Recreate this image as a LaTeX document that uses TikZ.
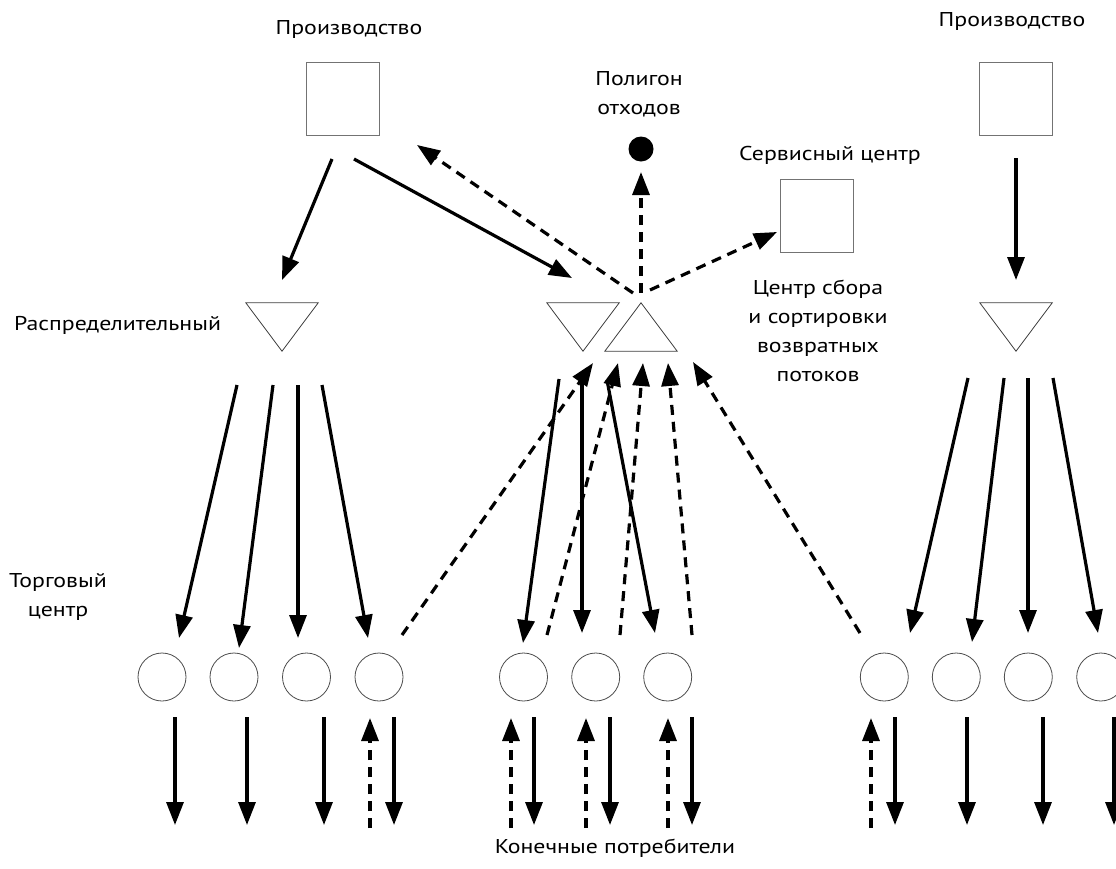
\documentclass[tikz,border=0pt]{standalone}
\usepackage{fontspec}
\setmainfont{PT Sans}[FakeStretch=1.19]
\usetikzlibrary{arrows.meta}
\tikzset{
  arr/.style={line width=3.2pt, -{Triangle[length=23pt,width=17pt]}},
  darr/.style={arr, dash pattern=on 10pt off 7pt},
  boxn/.style={draw=black!55, line width=0.9pt, minimum width=73pt, minimum height=73pt, inner sep=0pt},
  shop/.style={circle, draw=black!70, line width=0.8pt, minimum size=48pt, inner sep=0pt},
  tri/.style={inner sep=0pt, minimum width=72pt, minimum height=48pt},
  triline/.style={draw=black!75, line width=0.8pt},
  lbl/.style={font=\fontsize{20}{29}\selectfont, inner sep=0pt, align=center},
}
\begin{document}
\begin{tikzpicture}[x=1pt,y=-1pt]
\useasboundingbox (0,0) rectangle (1116,868);
\fill[white] (0,0) rectangle (1116,868);

% labels
\node[lbl] (tprodl) at (349,29) {Производство};
\node[lbl] (tprodr) at (1012,21) {Производство};
\node[lbl] (tpoly) at (639,94) {Полигон\\отходов};
\node[lbl] (tserv) at (830,155) {Сервисный центр};
\node[lbl] (tcol) at (818,331) {Центр сбора\\и сортировки\\возвратных\\потоков};
\node[lbl, anchor=west] (tdist) at (14,325) {Распределительный};
\node[lbl] (tshop) at (58,597) {Торговый\\центр};
\node[lbl] (tcons) at (615,848) {Конечные потребители};

% boxes and dot
\node[boxn] (pl) at (343,99) {};
\node[boxn] (pr) at (1016,99) {};
\node[boxn] (sc) at (816.5,216) {};
\node[circle, fill=black, minimum size=25pt, inner sep=0pt] (poly) at (641,149) {};

% triangles
\node[tri] (dl) at (282,327) {};
\node[tri] (dm) at (583,327) {};
\node[tri] (um) at (641,327) {};
\node[tri] (dr) at (1016,327) {};
\draw[triline] (dl.north west) -- (dl.north east) -- (dl.south) -- cycle;
\draw[triline] (dm.north west) -- (dm.north east) -- (dm.south) -- cycle;
\draw[triline] (dr.north west) -- (dr.north east) -- (dr.south) -- cycle;
\draw[triline] (um.south west) -- (um.south east) -- (um.north) -- cycle;

% shops
\foreach \x [count=\i] in {162,234,306.5,379} \node[shop] (l\i) at (\x,677) {};
\foreach \x [count=\i] in {523.5,595.7,667.7} \node[shop] (m\i) at (\x,677) {};
\foreach \x [count=\i] in {884.3,956.3,1028.3,1100.7} \node[shop] (r\i) at (\x,677) {};

% upper connectors
\coordinate (a1s) at (332,159); \coordinate (a1e) at (282,280);
\coordinate (a2s) at (354,159); \coordinate (a2e) at (572,278);
\coordinate (a3s) at (633,293); \coordinate (a3e) at (417,145);
\coordinate (a4s) at (641,293); \coordinate (a4e) at (641,172);
\coordinate (a5s) at (650,290); \coordinate (a5e) at (777,232);
\coordinate (a6s) at (1016,158); \coordinate (a6e) at (1016,280);
\draw[arr] (a1s) -- (a1e);
\draw[arr] (a2s) -- (a2e);
\draw[darr] (a3s) -- (a3e);
\draw[darr] (a4s) -- (a4e);
\draw[darr] (a5s) -- (a5e);
\draw[arr] (a6s) -- (a6e);

% distribution fans
\foreach \sx/\ex/\ey [count=\i] in {237/179/638, 273/239/648, 298/298/638, 322/368/638} {
  \coordinate (fl\i s) at (\sx,385); \coordinate (fl\i e) at (\ex,\ey);
  \draw[arr] (fl\i s) -- (fl\i e);
}
\foreach \sx/\ex/\ey [count=\i] in {968/910/633, 1004/972/642, 1028/1028/633, 1053/1098/633} {
  \coordinate (fr\i s) at (\sx,378); \coordinate (fr\i e) at (\ex,\ey);
  \draw[arr] (fr\i s) -- (fr\i e);
}
\foreach \sx/\sy/\ex/\ey [count=\i] in {559/379/523/643, 582/378/582/633, 607/380/655/633} {
  \coordinate (fm\i s) at (\sx,\sy); \coordinate (fm\i e) at (\ex,\ey);
  \draw[arr] (fm\i s) -- (fm\i e);
}
% return flows
\foreach \sx/\sy/\ex/\ey [count=\i] in {402/635/593/363, 547/635/618/363, 620/635/643/363, 692/635/668/363, 860/633/693/362} {
  \coordinate (rt\i s) at (\sx,\sy); \coordinate (rt\i e) at (\ex,\ey);
  \draw[darr] (rt\i s) -- (rt\i e);
}

% consumer flows
\foreach \x [count=\i] in {175,247,324,394,534,610,692,895,967,1043,1114} {
  \coordinate (cd\i s) at (\x,717); \coordinate (cd\i e) at (\x,825);
  \draw[arr] (cd\i s) -- (cd\i e);
}
\foreach \x [count=\i] in {370,511,586,668,871} {
  \coordinate (cu\i s) at (\x,828); \coordinate (cu\i e) at (\x,718);
  \draw[darr] (cu\i s) -- (cu\i e);
}
\end{tikzpicture}
\end{document}
